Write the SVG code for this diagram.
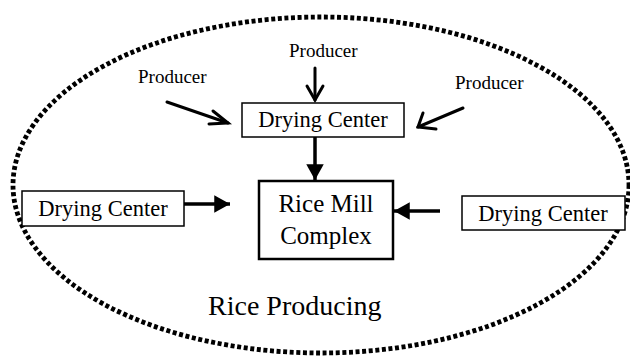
<svg xmlns="http://www.w3.org/2000/svg" width="630" height="356" viewBox="0 0 630 356">
<style>
.t{font-family:"Liberation Serif","Times New Roman",serif;fill:#000}
.box{fill:#fff;stroke:#000;stroke-width:1.5}
.big{fill:#fff;stroke:#000;stroke-width:2.5}
.ln{stroke:#000;stroke-width:3.5;fill:none}
.open{stroke:#000;stroke-width:3;fill:none;stroke-linecap:round;stroke-linejoin:miter}
</style>
<defs>
<marker id="fh" markerWidth="5" markerHeight="5" refX="4.5" refY="2.5" orient="auto" markerUnits="strokeWidth">
<path d="M0,0 L4.5,2.5 L0,5 Z" fill="#000"/>
</marker>
</defs>
<g id="region">
<ellipse cx="321" cy="185" rx="308" ry="168" fill="none" stroke="#000" stroke-width="4.8" stroke-dasharray="4 2.6"/>
<text class="t" x="208" y="315" font-size="28">Rice Producing</text>
</g>
<g id="connectors">
<line class="ln" x1="315" y1="137" x2="315" y2="180" marker-end="url(#fh)"/>
<line class="ln" x1="183" y1="204" x2="230" y2="204" marker-end="url(#fh)"/>
<line class="ln" x1="440" y1="211" x2="394" y2="211" marker-end="url(#fh)"/>
<line class="open" x1="315" y1="68" x2="315" y2="100"/>
<polyline class="open" points="307,86 315,100 323,86"/>
<line class="open" x1="167" y1="102" x2="228" y2="123"/>
<polyline class="open" points="213,111 228,123 209,124"/>
<line class="open" x1="463" y1="108" x2="418" y2="127"/>
<polyline class="open" points="423,113 418,127 436,129"/>
</g>
<g id="producer-left"><text class="t" x="138" y="83" font-size="19">Producer</text></g>
<g id="producer-top"><text class="t" x="289" y="57" font-size="19">Producer</text></g>
<g id="producer-right"><text class="t" x="455" y="89" font-size="19">Producer</text></g>
<g id="dc-top">
<rect class="box" x="242" y="103" width="162" height="34"/>
<text class="t" x="323" y="127" font-size="22.5" text-anchor="middle">Drying Center</text>
</g>
<g id="dc-left">
<rect class="box" x="22" y="191" width="162" height="35"/>
<text class="t" x="103" y="216" font-size="22.5" text-anchor="middle">Drying Center</text>
</g>
<g id="dc-right">
<rect class="box" x="462" y="196" width="163" height="34"/>
<text class="t" x="543" y="221" font-size="22.5" text-anchor="middle">Drying Center</text>
</g>
<g id="rice-mill">
<rect class="big" x="259" y="181" width="134" height="78"/>
<text class="t" x="326" y="212" font-size="25" text-anchor="middle">Rice Mill</text>
<text class="t" x="326" y="244" font-size="25" text-anchor="middle">Complex</text>
</g>
</svg>
